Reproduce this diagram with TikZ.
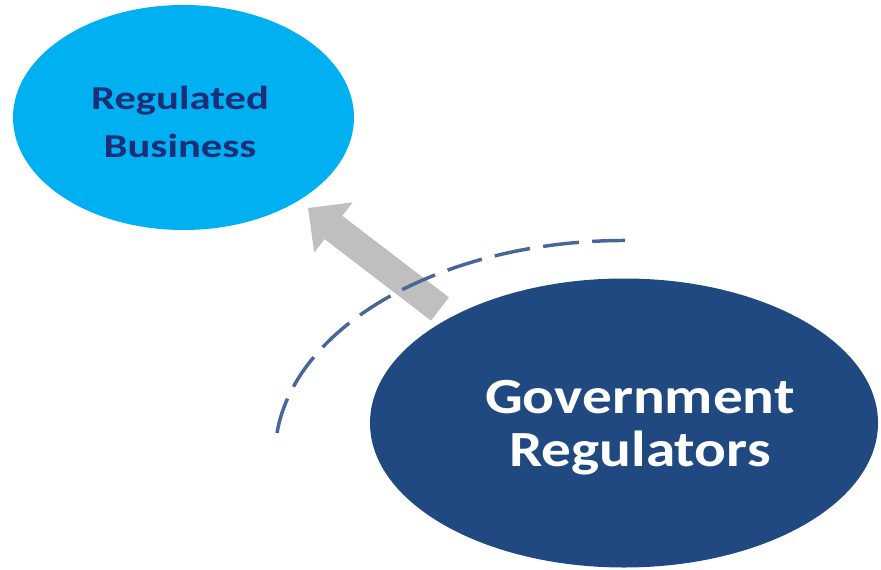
\documentclass[tikz,border=0pt]{standalone}
\usepackage{fontspec}
\setmainfont{Carlito}
\usetikzlibrary{arrows.meta,shapes.geometric}
\definecolor{bizfill}{RGB}{0,176,240}
\definecolor{biztxt}{RGB}{26,46,122}
\definecolor{govfill}{RGB}{31,73,128}
\definecolor{arcblue}{RGB}{72,102,150}
\definecolor{pushgray}{RGB}{191,191,191}
\tikzset{
  blob/.style={ellipse, inner sep=0pt, draw=none},
  biglabel/.style={align=center, font=\bfseries\addfontfeature{FakeStretch=1.17}\fontsize{38}{39.75}\selectfont, text=white},
  smalllabel/.style={align=center, font=\bfseries\addfontfeature{FakeStretch=1.28}\fontsize{25}{36}\selectfont, text=biztxt},
  pusharrow/.style={pushgray, line width=22pt, -{Triangle[width=46pt,length=24pt]}},
  arcline/.style={arcblue, line width=2.6pt, dash pattern=on 27pt off 10pt}
}
\begin{document}
\begin{tikzpicture}[x=0.75pt,y=-0.75pt]
\useasboundingbox (0,0) rectangle (881,570);
\node[blob, fill=bizfill, minimum width=255.75pt, minimum height=168.75pt] (biz) at (183.5,117.5){};
\node[smalllabel] (biztxt) at (180,122){Regulated\\Business};
\coordinate (armtail) at (440,309);
\coordinate (armtip) at (308,208);
\draw[pusharrow] (armtail) -- (armtip);
\node[blob, fill=govfill, minimum width=381pt, minimum height=216.75pt] (gov) at (624,423){};
\node[biglabel] (govtxt) at (640,428){Government\\Regulators};
\coordinate (arcstart) at (277,433);
\draw[arcline] (arcstart) arc[start angle=186, end angle=270, x radius=350, y radius=215];
\end{tikzpicture}
\end{document}
